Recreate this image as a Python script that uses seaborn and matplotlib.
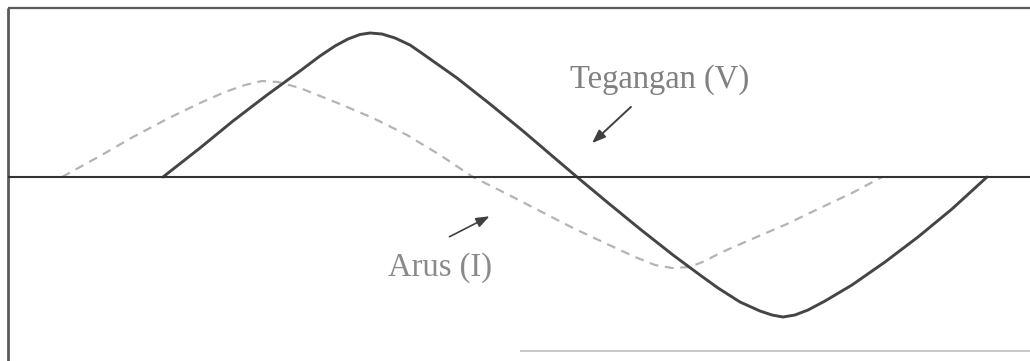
import pandas as pd
import seaborn as sns
import matplotlib.pyplot as plt

# values (x in picture units, y = amplitude above the axis)
tegangan_x = [163, 200, 233, 267, 300, 320, 335, 348, 360, 370, 382, 395, 410, 423,
              457, 490, 523, 557, 577, 607, 640, 673, 700, 718, 740, 760, 772, 783,
              795, 808, 825, 852, 885, 918, 952, 987]
tegangan_y = [0, 29, 56, 82, 106, 121, 131, 138, 142.5, 144, 143, 139, 132, 123,
              99, 73, 46, 17, 0, -25, -52, -78, -98, -111, -125, -134, -138, -140,
              -138, -133, -124, -108, -85, -60, -32, 0]

arus_x = [62, 100, 133, 167, 200, 225, 245, 262, 278, 300, 340, 373, 407, 440,
          473, 507, 540, 573, 607, 635, 655, 672, 690, 705, 720, 752, 787, 818,
          852, 882]
arus_y = [0, 21, 40, 58, 74, 85, 92, 96, 95, 89, 73, 59, 42, 22,
          0, -17, -34, -51, -67, -80, -88, -91, -90, -84, -76, -62, -47, -32,
          -16, 0]

label_v = 'Tegangan (V)'
label_i = 'Arus (I)'

sns.set_style('white')
plt.rcParams['font.family'] = ['Liberation Serif', 'DejaVu Serif']

fig = plt.figure(figsize=(10.3, 3.61), dpi=100)
ax = fig.add_axes([0, 0, 1, 1])

df_v = pd.DataFrame({'x': tegangan_x, 'y': tegangan_y})
df_i = pd.DataFrame({'x': arus_x, 'y': arus_y})

# frame and zero axis
ax.hlines(169, 8, 1030, color='#5a5a5a', lw=1.6)
ax.vlines(8, -184, 169, color='#5a5a5a', lw=2)
ax.hlines(-174, 520, 1030, color='#c8c8c8', lw=1.4)
ax.hlines(0, 8, 1030, color='#333333', lw=1.5, zorder=3)

sns.lineplot(data=df_i, x='x', y='y', sort=False, ax=ax, color='#b4b4b4',
             lw=1.6, linestyle=(0, (4, 3)))
sns.lineplot(data=df_v, x='x', y='y', sort=False, ax=ax, color='#454545', lw=2.1)

ax.text(660, 97, label_v, ha='center', va='center', fontsize=23.5, color='#808080')
ax.text(440, -91, label_i, ha='center', va='center', fontsize=23.5, color='#8a8a8a')

ax.annotate('', xy=(590, 32), xytext=(633, 72),
            arrowprops=dict(arrowstyle='-|>,head_length=0.8,head_width=0.3',
                            color='#404040', lw=1.4))
ax.annotate('', xy=(492, -38), xytext=(447, -61),
            arrowprops=dict(arrowstyle='-|>,head_length=0.8,head_width=0.3',
                            color='#404040', lw=1.2))

ax.set_xlim(0, 1030)
ax.set_ylim(-184, 177)
ax.set_axis_off()

plt.savefig('out.png', dpi=100)
plt.close()
